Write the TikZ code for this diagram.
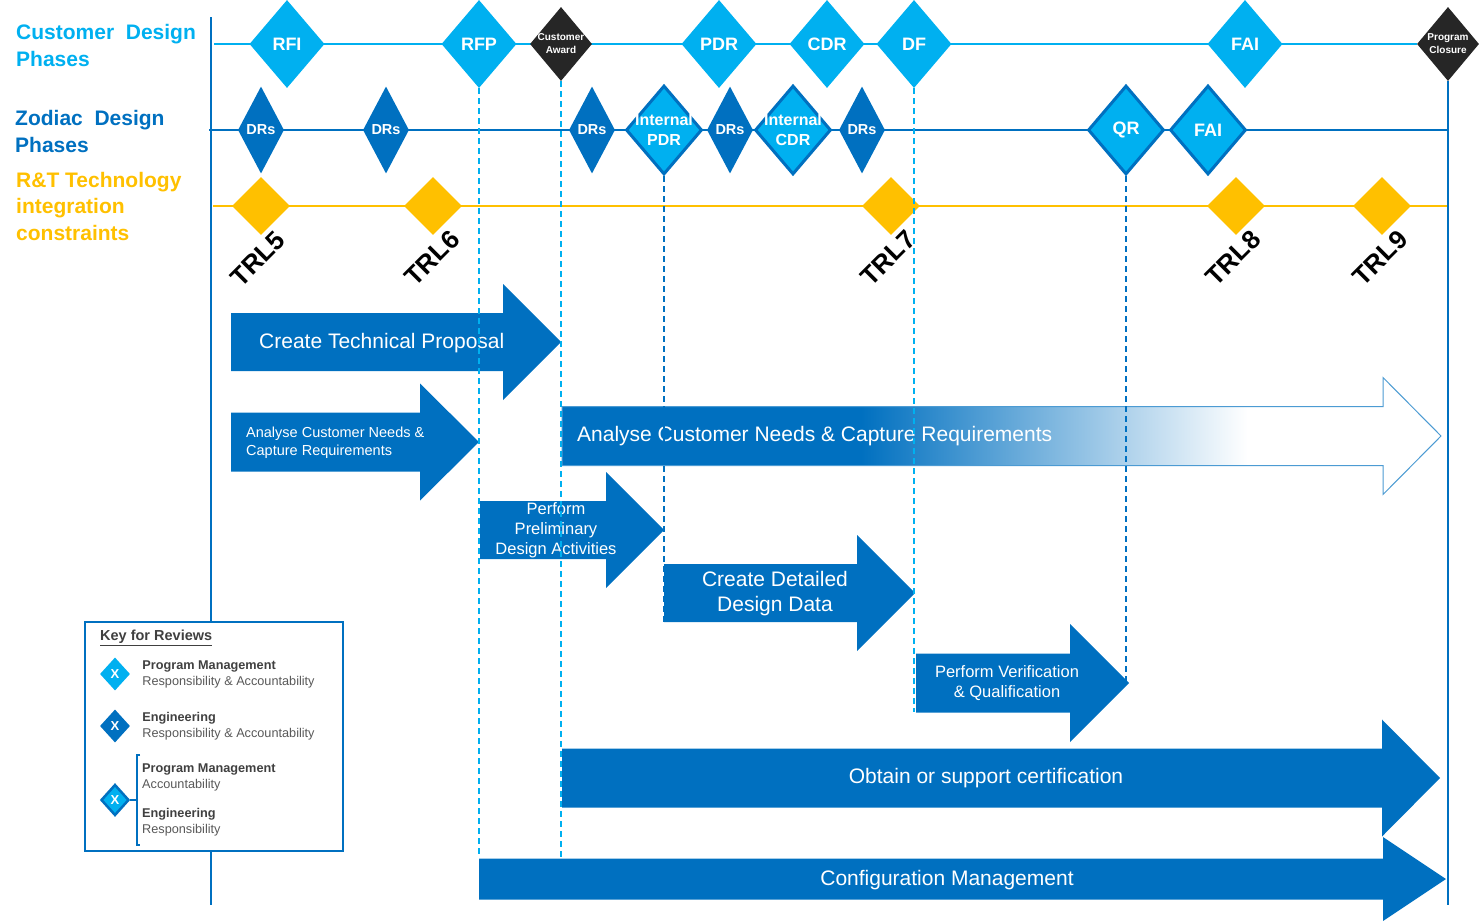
\documentclass[tikz,border=0pt]{standalone}
\usepackage{fontspec}
\setmainfont{Liberation Sans}
\usepackage{tikz}
\usetikzlibrary{shapes.geometric,positioning,backgrounds}
\definecolor{lblue}{RGB}{0,176,240}
\definecolor{dblue}{RGB}{0,112,192}
\definecolor{trlyellow}{RGB}{255,192,0}
\definecolor{awardblack}{RGB}{38,38,38}
\definecolor{keygray}{RGB}{64,64,64}
\definecolor{keylight}{RGB}{89,89,89}
\pgfdeclarehorizontalshading{fadeblue}{100bp}{color(0bp)=(dblue); color(42bp)=(dblue); color(64bp)=(white); color(100bp)=(white)}
\newcommand{\phasearrow}[7]{%
  \path[#1] (#2,{#5-#6}) -- (#3,{#5-#6}) -- (#3,{#5-#7}) -- (#4,#5)
    -- (#3,{#5+#7}) -- (#3,{#5+#6}) -- (#2,{#5+#6}) -- cycle;}

\begin{document}
\begin{tikzpicture}[x=1pt, y=-1pt,
    milestone/.style={diamond, inner sep=-6pt, text=white, align=center,
                      font=\bfseries\fontsize{18}{20}\selectfont},
    cust/.style={milestone, fill=lblue, minimum width=75, minimum height=88},
    award/.style={milestone, fill=awardblack, minimum width=62, minimum height=74,
                  font=\bfseries\fontsize{10}{13}\selectfont},
    drs/.style={milestone, fill=dblue, minimum width=46, minimum height=87,
                font=\bfseries\fontsize{14.5}{16}\selectfont},
    internal/.style={milestone, fill=lblue, draw=dblue, line width=3,
                     minimum width=76, minimum height=89},
    trl/.style={diamond, fill=trlyellow, inner sep=0, minimum width=58, minimum height=58},
    trltext/.style={rotate=45, inner sep=0, font=\bfseries\fontsize{26}{28}\selectfont},
    rowhead/.style={anchor=north west, align=left, inner sep=0,
                    font=\bfseries\fontsize{21}{27}\selectfont},
    phase/.style={fill=dblue},
    phasetext/.style={text=white, align=center, inner sep=0,
                      font=\fontsize{21}{25}\selectfont},
    guide/.style={dash pattern=on 6pt off 4pt, line width=2},
    keydiam/.style={milestone, minimum width=30, minimum height=33,
                    font=\bfseries\fontsize{13}{13}\selectfont},
    keytext/.style={anchor=west, align=left, inner sep=0, text=keylight,
                    font=\fontsize{12.7}{16}\selectfont}]

    \useasboundingbox (0,0) rectangle (1481,921);

    \coordinate (ltop) at (211,17);
    \coordinate (lbot) at (211,905);
    \coordinate (rbot) at (1448,905);
    \coordinate (cstart) at (214,44);
    \coordinate (zstart) at (209,130);
    \coordinate (zend) at (1448,130);
    \coordinate (ystart) at (213,206);
    \coordinate (yend) at (1448,206);

    \node [rowhead, text=lblue] (custhead) at (16,24) {Customer\ \ Design\\Phases};
    \node [rowhead, text=dblue] (zodhead) at (15,110) {Zodiac\ \ Design\\Phases};
    \node [rowhead, text=trlyellow, font=\bfseries\fontsize{21}{26.5}\selectfont] (rthead) at (16,172)
        {R\&T Technology\\integration\\constraints};

    \node [cust] (rfi) at (287,44) {RFI};
    \node [cust] (rfp) at (479,44) {RFP};
    \node [award] (award) at (561,44) {Customer\\Award};
    \node [cust] (pdr) at (719,44) {PDR};
    \node [cust] (cdr) at (827,44) {CDR};
    \node [cust] (df) at (914,44) {DF};
    \node [cust] (cfai) at (1245,44) {FAI};
    \node [award] (closure) at (1448,44) {Program\\Closure};

    \node [drs] (dr1) at (261,130) {DRs};
    \node [drs] (dr2) at (386,130) {DRs};
    \node [drs] (dr3) at (592,130) {DRs};
    \node [internal, font=\bfseries\fontsize{16}{20}\selectfont] (ipdr) at (664,130) {Internal\\PDR};
    \node [drs] (dr4) at (730,130) {DRs};
    \node [internal, font=\bfseries\fontsize{16}{20}\selectfont] (icdr) at (793,130) {Internal\\CDR};
    \node [drs] (dr5) at (862,130) {DRs};
    \node [internal] (qr) at (1126,130) {QR};
    \node [internal] (zfai) at (1208,130) {FAI};

    \node [trl] (trl5) at (261,206) {};
    \node [trl] (trl6) at (433,206) {};
    \node [trl] (trl7) at (891,206) {};
    \node [trl] (trl8) at (1236,206) {};
    \node [trl] (trl9) at (1382,206) {};
    \node [trltext] (trl5t) at (258,259) {TRL5};
    \node [trltext] (trl6t) at (432,258) {TRL6};
    \node [trltext] (trl7t) at (888,258) {TRL7};
    \node [trltext] (trl8t) at (1233,258) {TRL8};
    \node [trltext] (trl9t) at (1380,258) {TRL9};

    \begin{pgfonlayer}{background}
        \draw [lblue, line width=2] (cstart) -- (closure);
        \draw [dblue, line width=2] (zstart) -- (zend);
        \draw [trlyellow, line width=2] (ystart) -- (yend);
        \draw [dblue, line width=2] (ltop) -- (lbot);
        \draw [dblue, line width=2.5] (closure) -- (rbot);
    \end{pgfonlayer}

    \phasearrow{phase}{231}{503}{561}{342}{29}{58}
    \node [phasetext, anchor=west] (ctp) at (259,343) {Create Technical Proposal};
    \phasearrow{phase}{231}{420}{479}{442}{29.5}{58.5}
    \node [phasetext, anchor=west, align=left, font=\fontsize{14.5}{18}\selectfont] (acnsmall) at (246,443)
        {Analyse Customer Needs \&\\Capture Requirements};
    \phasearrow{shade, shading=fadeblue, draw=dblue!70, line width=1}{562}{1383}{1441}{436}{29.5}{58.5}
    \node [phasetext, anchor=west] (acnbig) at (577,436) {Analyse Customer Needs \& Capture Requirements};
    \phasearrow{phase}{480}{606}{664}{530}{29}{58}
    \node [phasetext, font=\fontsize{16.5}{20}\selectfont] (ppd) at (556,530) {Perform\\Preliminary\\Design Activities};
    \phasearrow{phase}{664}{857}{915}{593}{29}{58}
    \node [phasetext] (cdd) at (775,594) {Create Detailed\\Design Data};
    \phasearrow{phase}{916}{1070}{1129}{683}{29.5}{59}
    \node [phasetext, font=\fontsize{16.5}{20}\selectfont] (pvq) at (1007,683) {Perform Verification\\\& Qualification};
    \phasearrow{phase}{562}{1382}{1440}{778}{29.5}{58.5}
    \node [phasetext] (obt) at (986,778) {Obtain or support certification};
    \phasearrow{phase}{479}{1383}{1446}{879}{20.5}{42}
    \node [phasetext] (cfg) at (947,880) {Configuration Management};

    \coordinate (rfpend) at (479,858);
    \coordinate (awardend) at (561,858);
    \coordinate (ipdrend) at (664,622);
    \coordinate (dfend) at (914,712);
    \coordinate (qrend) at (1126,683);
    \draw [guide, lblue] (rfp) -- (rfpend);
    \draw [guide, lblue] (award) -- (awardend);
    \draw [guide, dblue] (ipdr) -- (ipdrend);
    \draw [guide, lblue] (df) -- (dfend);
    \draw [guide, dblue] (qr) -- (qrend);

    \node [draw=dblue, line width=2, fill=white, inner sep=0,
           minimum width=258, minimum height=229] (key) at (214,736.5) {};
    \node [anchor=west, inner sep=0, text=keygray, font=\bfseries\fontsize{14.5}{16}\selectfont] (keytitle)
        at (100,638) {\underline{Key for Reviews}};
    \node [keydiam, fill=lblue] (kd1) at (115,674) {X};
    \node [keydiam, fill=dblue] (kd2) at (115,726) {X};
    \node [keydiam, fill=lblue, draw=dblue, line width=2.5, minimum width=28, minimum height=31] (kd3) at (115,800) {X};
    \node [keytext, right=12 of kd1] (kt1) {\textcolor{keygray}{\bfseries Program Management}\\Responsibility \& Accountability};
    \node [keytext, right=12 of kd2] (kt2) {\textcolor{keygray}{\bfseries Engineering}\\Responsibility \& Accountability};
    \node [keytext] (kt3) at (142,777) {\textcolor{keygray}{\bfseries Program Management}\\Accountability};
    \node [keytext] (kt4) at (142,822) {\textcolor{keygray}{\bfseries Engineering}\\Responsibility};
    \coordinate (brtop) at (140,755);
    \coordinate (brbot) at (140,845);
    \coordinate (brmid) at (137,800);
    \draw [dblue, line width=1.5] (brtop) -- ++(-3,0) |- (brbot);
    \draw [dblue, line width=1.5] (kd3) -- (brmid);
\end{tikzpicture}
\end{document}
